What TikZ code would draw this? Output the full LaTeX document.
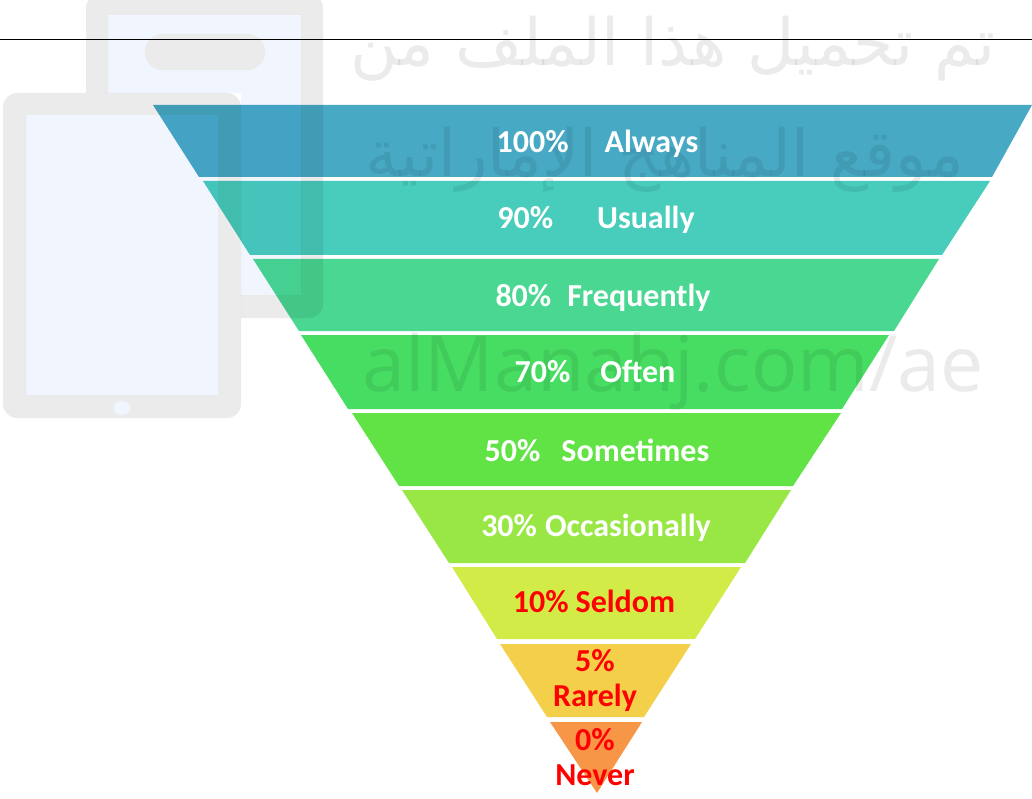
\documentclass[tikz,border=0pt]{standalone}
\usepackage{fontspec}
\setmainfont{Carlito}
\newfontfamily\arabicfont[Script=Arabic]{DejaVu Sans}
\newfontfamily\markfont{Open Sans}
\TeXXeTstate=1
\definecolor{screenblue}{HTML}{F1F6FE}
\definecolor{markgray}{HTML}{EBEBEB}
\definecolor{lvlalways}{HTML}{48A9C5}
\definecolor{lvlusually}{HTML}{48CCBB}
\definecolor{lvlfrequently}{HTML}{4AD792}
\definecolor{lvloften}{HTML}{47DD62}
\definecolor{lvlsometimes}{HTML}{62E345}
\definecolor{lvloccasionally}{HTML}{98E745}
\definecolor{lvlseldom}{HTML}{D3EB47}
\definecolor{lvlrarely}{HTML}{F3CF4A}
\definecolor{lvlnever}{HTML}{F79646}
\tikzset{
  lvlwhite/.style={text=white,font=\fontsize{32}{36}\selectfont\bfseries,align=center},
  lvlred/.style={text=red,font=\fontsize{32}{35}\selectfont\bfseries,align=center},
  markshape/.style={fill=markgray,blend mode=multiply},
  screenshape/.style={fill=screenblue,blend mode=multiply},
  marktext/.style={text=markgray,blend mode=multiply}
}
\begin{document}
\begin{tikzpicture}[x=1pt,y=-1pt]
  \useasboundingbox (0,0) rectangle (1032,799);
  \fill[white] (0,0) rectangle (1032,799);

  %draw funnel levels
  \foreach \ytop/\xa/\xb/\ybot/\xc/\xd/\col in {
      105/153/1032/177/199/992/lvlalways,
      181/203/990/255/250/942/lvlusually,
      259/253/939/331/299/894/lvlfrequently,
      335/301/889/409/348/842/lvloften,
      413/352/841/486/399/793/lvlsometimes,
      490/402/791/563/449/745/lvloccasionally,
      567/452/741/639/497/695/lvlseldom,
      644/500/691/717/547/644/lvlrarely,
      722/550/642/793/597/597/lvlnever}
     \fill[\col] (\xa,\ytop) -- (\xb,\ytop) -- (\xd,\ybot) -- (\xc,\ybot) -- cycle;

  %draw phone, the tablet hides part of it
  \begin{scope}
    \clip (80,-8) -- (330,-8) -- (330,325) -- (241,325) -- (241,93) -- (80,93) -- cycle;
    \path[markshape,even odd rule,rounded corners=14pt] (86,-6) rectangle (323,318)
      [sharp corners] (108,15) rectangle (301,295);
    \path[screenshape,even odd rule] (108,15) rectangle (301,295)
      [rounded corners=18pt] (145,34) rectangle (265,70);
    \path[markshape,rounded corners=18pt] (145,34) rectangle (265,70);
  \end{scope}

  %draw tablet
  \path[markshape,even odd rule,rounded corners=14pt] (3,93) rectangle (241,418)
      [sharp corners] (26,115) rectangle (218,395)
      (122,408) ellipse (9pt and 7pt);
  \path[screenshape] (26,115) rectangle (218,395);
  \path[screenshape] (122,408) ellipse (9pt and 7pt);

  %draw watermark text
  \node[marktext,font=\arabicfont\fontsize{65}{70}\selectfont] (markline) at (673,49) {\beginR تم تحميل هذا الملف من\endR};
  \node[marktext,font=\arabicfont\fontsize{65}{70}\selectfont] (marksite) at (665,160) {\beginR موقع المناهج الإماراتية\endR};
  \node[marktext,font=\markfont\fontsize{77}{84}\selectfont] (markurl) at (673,371) {alManahj.com/ae};

  %draw top rule
  \coordinate (ruleleft) at (0,40);
  \coordinate (ruleright) at (1032,40);
  \draw[black,line width=1pt] (ruleleft) -- (ruleright);

  %draw labels
  \node[lvlwhite] (always) at (597.5,144) {100\%\hspace{36pt}Always};
  \node[lvlwhite] (usually) at (596,220) {90\%\hspace{44pt}Usually};
  \node[lvlwhite] (frequently) at (603,298) {80\%\hspace{16pt}Frequently};
  \node[lvlwhite] (often) at (595,372) {70\%\hspace{30pt}Often};
  \node[lvlwhite] (sometimes) at (597,450) {50\%\hspace{21pt}Sometimes};
  \node[lvlwhite] (occasionally) at (596,528) {30\%\hspace{8pt}Occasionally};
  \node[lvlred] (seldom) at (594,601) {10\%\hspace{7pt}Seldom};
  \node[lvlred] (rarely) at (595,680) {5\%\\Rarely};
  \node[lvlred] (never) at (595,757) {0\%\\Never};
\end{tikzpicture}
\end{document}
